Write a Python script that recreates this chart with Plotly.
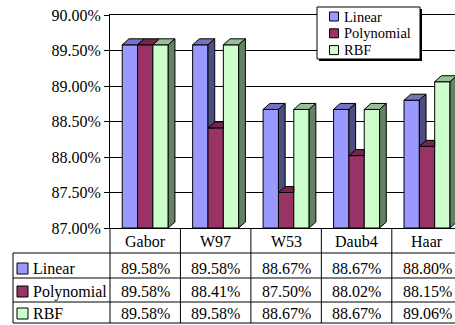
import plotly.graph_objects as go

# ---- data -------------------------------------------------------------
categories = ["Gabor", "W97", "W53", "Daub4", "Haar"]
series_names = ["Linear", "Polynomial", "RBF"]
linear = [89.58, 89.58, 88.67, 88.67, 88.80]
polynomial = [89.58, 88.41, 87.50, 88.02, 88.15]
rbf = [89.58, 89.58, 88.67, 88.67, 89.06]
y_ticks = [87.0, 87.5, 88.0, 88.5, 89.0, 89.5, 90.0]

series_values = [linear, polynomial, rbf]

# ---- styling ----------------------------------------------------------
FONT = "'Liberation Serif', 'Times New Roman', serif"
front_colors = ["#9999FF", "#993366", "#CCFFCC"]
top_colors = ["#7373BF", "#73264D", "#99BF99"]
side_colors = ["#4D4D80", "#4D1A33", "#668066"]

W, H = 455, 325
PLOT_LEFT, PLOT_TOP, PLOT_BOTTOM = 110, 15, 228
TABLE_LEFT = 13
ROW_LINES = [253, 278, 302, 323]          # horizontal rules of the data table
TEXT_Y = [242, 268.5, 291.5, 313.5]       # header row, then one per series
CAT_PX = 70.45                            # pixels per category slot
Y_MIN, Y_MAX = 87.0, 90.0

GROUP = 0.653                             # share of a slot used by a cluster
BW = GROUP / 3                            # single bar width (x units)
DX = 6.7 / CAT_PX                         # 3-D depth, horizontal (x units)
DY = 6.0 / ((PLOT_BOTTOM - PLOT_TOP) / (Y_MAX - Y_MIN))  # 3-D depth, vertical


def px(p):
    return p / W


def py(p):
    return 1 - p / H


fig = go.Figure()
xs = list(range(len(categories)))

# front faces of the columns
for i, name in enumerate(series_names):
    fig.add_trace(go.Bar(
        x=xs, y=[v - Y_MIN for v in series_values[i]], base=Y_MIN,
        width=BW, offset=-GROUP / 2 + i * BW, name=name,
        marker=dict(color=front_colors[i], line=dict(color="black", width=1)),
        showlegend=False, hoverinfo="skip",
    ))


def poly_trace(pts, color):
    return go.Scatter(
        x=[p[0] for p in pts] + [pts[0][0]], y=[p[1] for p in pts] + [pts[0][1]],
        mode="lines", fill="toself", fillcolor=color,
        line=dict(color="black", width=1), showlegend=False, hoverinfo="skip",
    )


# top and side faces, painted left to right so nearer columns overlap
for j in xs:
    for i in range(3):
        v = series_values[i][j]
        a = j - GROUP / 2 + i * BW
        vn = series_values[i + 1][j] if i < 2 else None
        # top face, trimmed where the next column's front face hides it
        h = 0.0 if vn is None else min(max(vn - v, 0.0), DY)
        if h >= DY:
            top = [(a, v), (a + DX, v + DY), (a + BW, v + DY), (a + BW, v)]
        elif h > 0:
            top = [(a, v), (a + DX, v + DY), (a + BW + DX, v + DY),
                   (a + BW + DX * h / DY, v + h), (a + BW, v + h), (a + BW, v)]
        else:
            top = [(a, v), (a + DX, v + DY), (a + BW + DX, v + DY), (a + BW, v)]
        fig.add_trace(poly_trace(top, top_colors[i]))
        # right side face
        if vn is None:
            side = [(a + BW, Y_MIN), (a + BW, v), (a + BW + DX, v + DY),
                    (a + BW + DX, Y_MIN + DY)]
            fig.add_trace(poly_trace(side, side_colors[i]))
        elif vn < v:
            side = [(a + BW, vn), (a + BW, v), (a + BW + DX, v + DY),
                    (a + BW + DX, vn)]
            fig.add_trace(poly_trace(side, side_colors[i]))

shapes = []
annotations = []

# legend box with drop shadow
LEG = (317, 7, 420, 59)
shapes.append(dict(type="rect", xref="paper", yref="paper",
                   x0=px(LEG[0] + 2), x1=px(LEG[2] + 2), y0=py(LEG[1] + 2), y1=py(LEG[3] + 2),
                   fillcolor="black", line=dict(width=0)))
shapes.append(dict(type="rect", xref="paper", yref="paper",
                   x0=px(LEG[0]), x1=px(LEG[2]), y0=py(LEG[1]), y1=py(LEG[3]),
                   fillcolor="white", line=dict(color="black", width=1)))
for i, name in enumerate(series_names):
    cy = 16.5 + i * 16.8
    shapes.append(dict(type="rect", xref="paper", yref="paper",
                       x0=px(329.5), x1=px(338.5), y0=py(cy - 4.5), y1=py(cy + 4.5),
                       fillcolor=front_colors[i], line=dict(color="black", width=1)))
    annotations.append(dict(text=name, xref="paper", yref="paper", x=px(341.5), y=py(cy),
                            xanchor="left", yanchor="middle", showarrow=False,
                            font=dict(family=FONT, size=14.5, color="black")))

# data table grid
for yl in ROW_LINES:
    shapes.append(dict(type="line", xref="paper", yref="paper", x0=px(TABLE_LEFT), x1=1,
                       y0=py(yl), y1=py(yl), line=dict(color="black", width=1)))
shapes.append(dict(type="line", xref="paper", yref="paper", x0=px(TABLE_LEFT), x1=px(TABLE_LEFT),
                   y0=py(ROW_LINES[0]), y1=py(ROW_LINES[-1]), line=dict(color="black", width=1)))
shapes.append(dict(type="line", xref="paper", yref="paper", x0=px(PLOT_LEFT), x1=px(PLOT_LEFT),
                   y0=py(PLOT_BOTTOM), y1=py(ROW_LINES[-1]), line=dict(color="black", width=1)))
for j in xs:
    shapes.append(dict(type="line", xref="x", yref="paper", x0=j + 0.5, x1=j + 0.5,
                       y0=py(PLOT_BOTTOM), y1=py(ROW_LINES[-1]), line=dict(color="black", width=1)))

# table text: category header and one row per series
for j, cat in enumerate(categories):
    annotations.append(dict(text=cat, xref="x", yref="paper", x=j, y=py(TEXT_Y[0]),
                            xanchor="center", yanchor="middle", showarrow=False,
                            font=dict(family=FONT, size=16, color="black")))
for i, name in enumerate(series_names):
    cy = TEXT_Y[i + 1]
    shapes.append(dict(type="rect", xref="paper", yref="paper",
                       x0=px(17), x1=px(28), y0=py(cy - 5.5), y1=py(cy + 5.5),
                       fillcolor=front_colors[i], line=dict(color="black", width=1)))
    annotations.append(dict(text=name, xref="paper", yref="paper", x=px(31), y=py(cy),
                            xanchor="left", yanchor="middle", showarrow=False,
                            font=dict(family=FONT, size=16, color="black")))
    for j in xs:
        annotations.append(dict(text=f"{series_values[i][j]:.2f}%", xref="x", yref="paper",
                                x=j, y=py(cy), xanchor="center", yanchor="middle",
                                showarrow=False, font=dict(family=FONT, size=16, color="black")))

fig.update_layout(
    width=W, height=H, autosize=False, margin=dict(l=0, r=0, t=0, b=0, pad=0),
    paper_bgcolor="white", plot_bgcolor="white",
    barmode="overlay", showlegend=False,
    font=dict(family=FONT, color="black"),
    shapes=shapes, annotations=annotations,
    xaxis=dict(domain=[px(PLOT_LEFT), 1], range=[-0.5, -0.5 + (W - PLOT_LEFT) / CAT_PX],
               showticklabels=False, ticks="", showgrid=False, zeroline=False,
               automargin=False,
               showline=True, mirror=True, linecolor="black", linewidth=1),
    yaxis=dict(domain=[py(PLOT_BOTTOM), py(PLOT_TOP)], range=[Y_MIN, Y_MAX],
               tickvals=y_ticks, ticktext=[f"{t:.2f}%" for t in y_ticks],
               ticks="outside", ticklen=5, tickcolor="black", tickwidth=1,
               showgrid=True, gridcolor="black", gridwidth=1, zeroline=False,
               automargin=False,
               showline=True, linecolor="black", linewidth=1,
               tickfont=dict(family=FONT, size=16, color="black")),
)

fig.write_html("out.html")
